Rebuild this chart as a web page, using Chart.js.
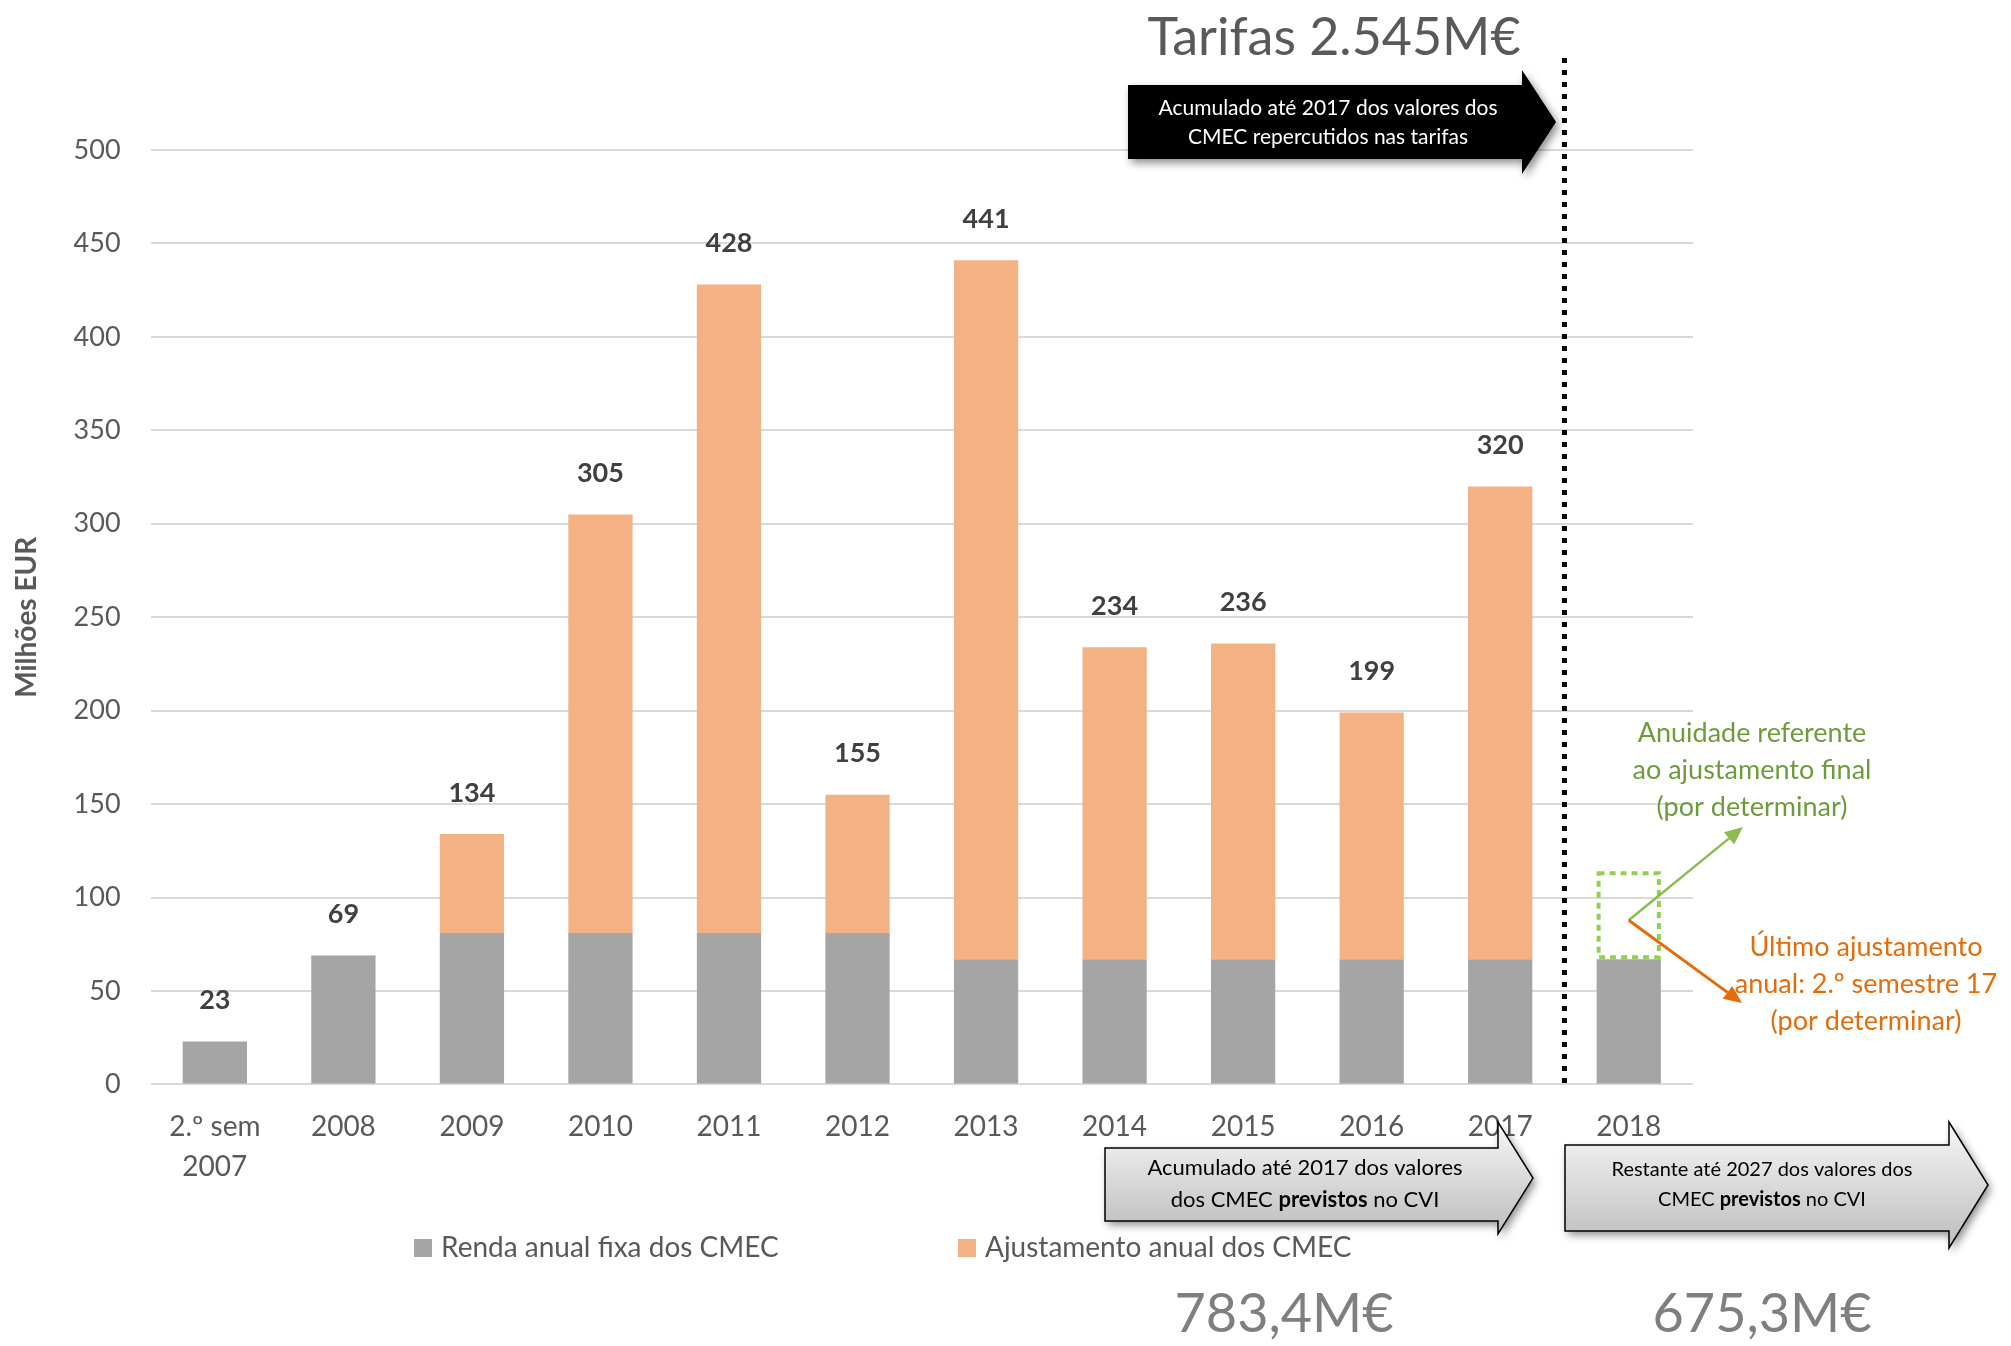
<!DOCTYPE html>
<html>
<head>
<meta charset="utf-8">
<script src="https://cdn.jsdelivr.net/npm/chart.js@4/dist/chart.umd.min.js"></script>
<style>
    body { margin: 0; background: #fff; }
    canvas { display: block; }
</style>
</head>
<body>
<canvas id="graficoCMEC" width="2011" height="1346"></canvas>
<script>
// dados
const categorias = [["2.º sem", "2007"], "2008", "2009", "2010", "2011", "2012", "2013", "2014", "2015", "2016", "2017", "2018"];
const rendaFixa = [23, 69, 81, 81, 81, 81, 67, 67, 67, 67, 67, 67];
const ajustamento = [null, null, 53, 224, 347, 74, 374, 167, 169, 132, 253, null];
const totais = [23, 69, 134, 305, 428, 155, 441, 234, 236, 199, 320, null];
const porDeterminar = [null, null, null, null, null, null, null, null, null, null, null, 46];
const marcasY = [0, 50, 100, 150, 200, 250, 300, 350, 400, 450, 500];

const FONTE = "Lato";
Chart.defaults.font.family = FONTE;

function seta(ctx, x0, y0, x1, y1, cor, largura) {
    const ang = Math.atan2(y1 - y0, x1 - x0);
    const tam = 18;
    const xb = x1 - tam * Math.cos(ang);
    const yb = y1 - tam * Math.sin(ang);
    ctx.save();
    ctx.strokeStyle = cor;
    ctx.fillStyle = cor;
    ctx.lineWidth = largura;
    ctx.beginPath();
    ctx.moveTo(x0, y0);
    ctx.lineTo(xb, yb);
    ctx.stroke();
    ctx.beginPath();
    ctx.moveTo(x1, y1);
    ctx.lineTo(xb + 8 * Math.sin(ang), yb - 8 * Math.cos(ang));
    ctx.lineTo(xb - 8 * Math.sin(ang), yb + 8 * Math.cos(ang));
    ctx.closePath();
    ctx.fill();
    ctx.restore();
}

function setaBloco(ctx, s, preenchimento, contorno) {
    const meio = (s.cabTopo + s.cabBase) / 2;
    ctx.beginPath();
    ctx.moveTo(s.x0, s.topo);
    ctx.lineTo(s.x1, s.topo);
    ctx.lineTo(s.x1, s.cabTopo);
    ctx.lineTo(s.ponta, meio);
    ctx.lineTo(s.x1, s.cabBase);
    ctx.lineTo(s.x1, s.base);
    ctx.lineTo(s.x0, s.base);
    ctx.closePath();
    ctx.save();
    ctx.shadowColor = "rgba(0,0,0,0.45)";
    ctx.shadowBlur = 8;
    ctx.shadowOffsetX = 3;
    ctx.shadowOffsetY = 4;
    ctx.fillStyle = preenchimento;
    ctx.fill();
    ctx.restore();
    if (contorno) {
        ctx.strokeStyle = contorno;
        ctx.lineWidth = 1.5;
        ctx.stroke();
    }
}

// linha com partes em negrito, centrada em cx
function textoMisto(ctx, partes, cx, cy, tamanho, cor) {
    let total = 0;
    partes.forEach((p) => {
        ctx.font = (p[1] ? "bold " : "") + tamanho + "px " + FONTE;
        total += ctx.measureText(p[0]).width;
    });
    let x = cx - total / 2;
    ctx.fillStyle = cor;
    ctx.textAlign = "left";
    ctx.textBaseline = "middle";
    partes.forEach((p) => {
        ctx.font = (p[1] ? "bold " : "") + tamanho + "px " + FONTE;
        ctx.fillText(p[0], x, cy);
        x += ctx.measureText(p[0]).width;
    });
}

const anotacoes = {
    id: "anotacoes",
    afterDatasetsDraw(chart) {
        const ctx = chart.ctx;
        const escX = chart.scales.x;
        const escY = chart.scales.y;

        // totais por cima das barras
        ctx.save();
        ctx.font = "bold 27px " + FONTE;
        ctx.fillStyle = "#404040";
        ctx.textAlign = "center";
        ctx.textBaseline = "middle";
        totais.forEach((t, i) => {
            if (t == null) return;
            ctx.fillText(String(t), escX.getPixelForValue(i), escY.getPixelForValue(t) - 41);
        });
        ctx.restore();

        // caixa pontilhada do ajustamento por determinar
        const meta = chart.getDatasetMeta(2);
        let centro = null;
        meta.data.forEach((el, i) => {
            if (porDeterminar[i] == null) return;
            const p = el.getProps(["x", "y", "base", "width"], true);
            ctx.save();
            ctx.strokeStyle = "#92d050";
            ctx.lineWidth = 4;
            ctx.setLineDash([6, 5]);
            ctx.strokeRect(p.x - p.width / 2 + 2, p.y, p.width - 4, p.base - p.y - 2);
            ctx.restore();
            centro = { x: p.x, y: (p.y + p.base) / 2 + 4 };
        });

        // separador 2017 / 2018
        const xSep = (escX.getPixelForValue(10) + escX.getPixelForValue(11)) / 2;
        ctx.save();
        ctx.strokeStyle = "#000";
        ctx.lineWidth = 5;
        ctx.setLineDash([5, 7]);
        ctx.beginPath();
        ctx.moveTo(xSep, 58);
        ctx.lineTo(xSep, chart.chartArea.bottom);
        ctx.stroke();
        ctx.restore();

        if (centro) {
            seta(ctx, centro.x, centro.y, 1743, 827, "#8dbb53", 2.5);
            seta(ctx, centro.x, centro.y, 1742, 1003, "#e46c0a", 3);
        }

        // textos das notas
        ctx.save();
        ctx.font = "27px " + FONTE;
        ctx.textAlign = "center";
        ctx.textBaseline = "middle";
        ctx.fillStyle = "#6e9c3c";
        ["Anuidade referente", "ao ajustamento final", "(por determinar)"].forEach((l, k) => {
            ctx.fillText(l, 1752, 733 + k * 37);
        });
        ctx.fillStyle = "#e46c0a";
        ["Último ajustamento", "anual: 2.º semestre 17", "(por determinar)"].forEach((l, k) => {
            ctx.fillText(l, 1866, 947 + k * 37);
        });
        ctx.restore();

        // título e seta preta
        ctx.save();
        ctx.font = "52px " + FONTE;
        ctx.fillStyle = "#595959";
        ctx.textAlign = "center";
        ctx.textBaseline = "middle";
        ctx.fillText("Tarifas 2.545M€", 1334, 38);
        ctx.restore();

        setaBloco(ctx, { x0: 1128, x1: 1522, ponta: 1556, topo: 85, base: 159, cabTopo: 70, cabBase: 174 }, "#000", null);
        textoMisto(ctx, [["Acumulado até 2017 dos valores dos", false]], 1328, 108, 21, "#fff");
        textoMisto(ctx, [["CMEC repercutidos nas tarifas", false]], 1328, 137, 21, "#fff");

        // setas de baixo
        const grad1 = ctx.createLinearGradient(0, 1122, 0, 1234);
        grad1.addColorStop(0, "#f7f7f7");
        grad1.addColorStop(1, "#bdbdbd");
        setaBloco(ctx, { x0: 1105, x1: 1498, ponta: 1533, topo: 1148, base: 1221, cabTopo: 1122, cabBase: 1234 }, grad1, "#000");
        textoMisto(ctx, [["Acumulado até 2017 dos valores", false]], 1305, 1168, 22, "#000");
        textoMisto(ctx, [["dos CMEC ", false], ["previstos", true], [" no CVI", false]], 1305, 1200, 22, "#000");

        const grad2 = ctx.createLinearGradient(0, 1122, 0, 1248);
        grad2.addColorStop(0, "#f7f7f7");
        grad2.addColorStop(1, "#bdbdbd");
        setaBloco(ctx, { x0: 1565, x1: 1949, ponta: 1988, topo: 1145, base: 1231, cabTopo: 1122, cabBase: 1248 }, grad2, "#000");
        textoMisto(ctx, [["Restante até 2027 dos valores dos", false]], 1762, 1170, 20, "#000");
        textoMisto(ctx, [["CMEC ", false], ["previstos", true], [" no CVI", false]], 1762, 1200, 20, "#000");

        ctx.save();
        ctx.font = "54px " + FONTE;
        ctx.fillStyle = "#7f7f7f";
        ctx.textAlign = "center";
        ctx.textBaseline = "middle";
        ctx.fillText("783,4M€", 1284, 1315);
        ctx.fillText("675,3M€", 1762, 1315);
        ctx.restore();

        // legenda
        ctx.save();
        ctx.font = "28px " + FONTE;
        ctx.textAlign = "left";
        ctx.textBaseline = "middle";
        [[414, chart.data.datasets[0]], [958, chart.data.datasets[1]]].forEach(([lx, ds]) => {
            ctx.fillStyle = ds.backgroundColor;
            ctx.fillRect(lx, 1239, 18, 18);
            ctx.fillStyle = "#595959";
            ctx.fillText(ds.label, lx + 27, 1248);
        });
        ctx.restore();
    },
};

const dataGrafico = {
    labels: categorias,
    datasets: [
        { label: "Renda anual fixa dos CMEC", data: rendaFixa, backgroundColor: "#a5a5a5" },
        { label: "Ajustamento anual dos CMEC", data: ajustamento, backgroundColor: "#f4b183" },
        { label: "Por determinar", data: porDeterminar, backgroundColor: "rgba(0,0,0,0)" },
    ],
};

const configGrafico = {
    type: "bar",
    data: dataGrafico,
    options: {
        responsive: false,
        animation: false,
        barPercentage: 0.5,
        categoryPercentage: 1,
        layout: {
            padding: { left: 10, right: 318, top: 150, bottom: 144 },
        },
        plugins: {
            legend: { display: false },
            tooltip: { enabled: false },
        },
        scales: {
            x: {
                stacked: true,
                grid: { display: false },
                border: { display: false },
                ticks: {
                    color: "#595959",
                    font: { size: 28, lineHeight: 1.42 },
                    padding: 15,
                    maxRotation: 0,
                    autoSkip: false,
                },
            },
            y: {
                stacked: true,
                min: 0,
                max: 500,
                afterBuildTicks: (escala) => {
                    escala.ticks = marcasY.map((v) => ({ value: v }));
                },
                grid: { color: "#d9d9d9", lineWidth: 2, drawTicks: false },
                border: { display: false },
                ticks: {
                    color: "#595959",
                    font: { size: 27 },
                    padding: 30,
                },
                title: {
                    display: true,
                    text: "Milhões EUR",
                    color: "#595959",
                    font: { size: 28, weight: "bold" },
                    padding: { top: 0, bottom: 0 },
                },
            },
        },
    },
    plugins: [anotacoes],
};

const graficoCMEC = new Chart(document.getElementById("graficoCMEC"), configGrafico);
</script>
</body>
</html>
